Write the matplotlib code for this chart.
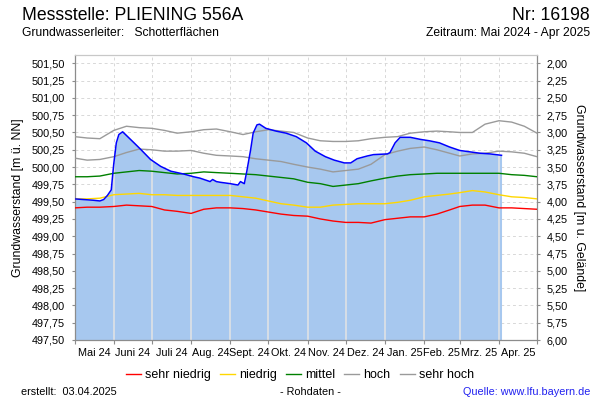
import matplotlib
matplotlib.use('Agg')
import matplotlib.pyplot as plt
import matplotlib.dates as mdates
import numpy as np

plt.rcParams['font.family'] = ['Liberation Sans', 'DejaVu Sans']

# Messwerte Grundwasserstand [m ü. NN]
mess_datum = ['2024-05-01', '2024-05-16', '2024-05-21', '2024-05-24', '2024-05-27', '2024-05-30',
              '2024-06-01', '2024-06-03', '2024-06-05', '2024-06-08', '2024-06-17', '2024-06-22', '2024-06-30',
              '2024-07-08', '2024-07-16', '2024-07-26',
              '2024-08-03', '2024-08-08', '2024-08-16', '2024-08-18', '2024-08-21', '2024-08-24',
              '2024-09-01', '2024-09-07', '2024-09-09', '2024-09-12', '2024-09-14', '2024-09-17', '2024-09-19',
              '2024-09-22', '2024-09-24', '2024-09-29',
              '2024-10-07', '2024-10-15', '2024-10-23', '2024-10-31',
              '2024-11-07', '2024-11-15', '2024-11-22', '2024-11-30',
              '2024-12-05', '2024-12-10', '2024-12-18', '2024-12-23',
              '2025-01-03', '2025-01-05', '2025-01-09', '2025-01-13', '2025-01-21', '2025-01-29',
              '2025-02-05', '2025-02-13', '2025-02-21',
              '2025-03-01', '2025-03-09', '2025-03-17', '2025-03-25',
              '2025-04-03']
mess_wert = [499.54, 499.52, 499.51, 499.53, 499.59, 499.67,
             500.05, 500.35, 500.47, 500.51, 500.35, 500.26, 500.11,
             500.01, 499.94, 499.90,
             499.86, 499.84, 499.79, 499.82, 499.79, 499.78,
             499.76, 499.74, 499.79, 499.76, 499.94, 500.25, 500.49, 500.61, 500.62, 500.56,
             500.52, 500.49, 500.44, 500.35,
             500.23, 500.15, 500.10, 500.06,
             500.06, 500.12, 500.16, 500.18,
             500.19, 500.21, 500.35, 500.43, 500.43, 500.40,
             500.38, 500.35, 500.29,
             500.24, 500.22, 500.20, 500.19,
             500.17]

# Statistik-Kurven (jeweils am 1., 11. und 21. des Monats)
jahr_monat = [(2024, 5), (2024, 6), (2024, 7), (2024, 8), (2024, 9), (2024, 10), (2024, 11), (2024, 12),
              (2025, 1), (2025, 2), (2025, 3), (2025, 4)]
stat_datum = [f'{j}-{m:02d}-{t:02d}' for j, m in jahr_monat for t in (1, 11, 21)] + ['2025-05-01']

sehr_hoch = [500.44, 500.42, 500.41, 500.53, 500.59, 500.57, 500.56, 500.53, 500.49,
             500.51, 500.54, 500.55, 500.51, 500.47, 500.51, 500.54, 500.52, 500.50,
             500.42, 500.38, 500.37, 500.37, 500.38, 500.41, 500.43, 500.44, 500.49,
             500.51, 500.52, 500.51, 500.50, 500.50, 500.62, 500.67, 500.65, 500.59, 500.49]
hoch = [500.13, 500.10, 500.11, 500.15, 500.21, 500.26, 500.25, 500.23, 500.23,
        500.24, 500.20, 500.17, 500.16, 500.15, 500.12, 500.10, 500.08, 500.04,
        500.00, 499.97, 499.93, 499.95, 499.97, 500.04, 500.18, 500.23, 500.27,
        500.29, 500.25, 500.20, 500.16, 500.19, 500.20, 500.23, 500.22, 500.20, 500.15]
mittel = [499.86, 499.86, 499.87, 499.91, 499.93, 499.95, 499.94, 499.92, 499.90,
          499.91, 499.93, 499.92, 499.91, 499.90, 499.89, 499.87, 499.85, 499.83,
          499.78, 499.76, 499.72, 499.74, 499.76, 499.80, 499.84, 499.87, 499.89,
          499.90, 499.91, 499.91, 499.91, 499.91, 499.91, 499.91, 499.89, 499.88, 499.86]
niedrig = [499.54, 499.54, 499.55, 499.60, 499.61, 499.62, 499.60, 499.60, 499.59,
           499.59, 499.59, 499.59, 499.59, 499.57, 499.55, 499.51, 499.47, 499.45,
           499.42, 499.42, 499.45, 499.46, 499.47, 499.47, 499.47, 499.49, 499.52,
           499.57, 499.59, 499.61, 499.63, 499.66, 499.64, 499.60, 499.57, 499.56, 499.54]
sehr_niedrig = [499.41, 499.42, 499.42, 499.43, 499.45, 499.44, 499.43, 499.38, 499.36,
                499.33, 499.39, 499.41, 499.41, 499.40, 499.38, 499.35, 499.32, 499.30,
                499.29, 499.25, 499.22, 499.20, 499.20, 499.19, 499.24, 499.26, 499.28,
                499.28, 499.32, 499.38, 499.43, 499.45, 499.45, 499.41, 499.41, 499.40, 499.39]

gelaende = 503.50
monate = ['Mai 24', 'Juni 24', 'Juli 24', 'Aug. 24', 'Sept. 24', 'Okt. 24', 'Nov. 24',
          'Dez. 24', 'Jan. 25', 'Feb. 25', 'Mrz. 25', 'Apr. 25']
monatsgrenzen = [f'{j}-{m:02d}-01' for j, m in jahr_monat] + ['2025-05-01']

# Umrechnen in Matplotlib-Datumszahlen
mx = mdates.date2num(np.array(mess_datum, dtype='datetime64[D]'))
sx = mdates.date2num(np.array(stat_datum, dtype='datetime64[D]'))
gx = mdates.date2num(np.array(monatsgrenzen, dtype='datetime64[D]'))
mitte = (gx[:-1] + gx[1:]) / 2

y_unten, y_oben = 497.50, 501.62
grau = '#8c8c8c'

fig = plt.figure(figsize=(6, 4), dpi=100)
ax = fig.add_axes([74.5 / 600, 60 / 400, (537 - 74.5) / 600, 285 / 400])

# Füllung und Messkurve
ax.fill_between(mx, mess_wert, y_unten, color='#A7C8EF', lw=0, zorder=2)
for g in gx[1:]:
    if g <= mx[-1]:
        ax.vlines(g, y_unten, np.interp(g, mx, mess_wert), color='#E4E4E4', lw=1.1, zorder=2.5)

ax.plot(sx, sehr_niedrig, color='#FF0000', lw=1.0, label='sehr niedrig', zorder=3)
ax.plot(sx, niedrig, color='#FFD700', lw=1.0, label='niedrig', zorder=3)
ax.plot(sx, mittel, color='#008000', lw=1.0, label='mittel', zorder=3)
ax.plot(sx, hoch, color='#9a9a9a', lw=1.0, label='hoch', zorder=3)
ax.plot(sx, sehr_hoch, color='#9a9a9a', lw=1.0, label='sehr hoch', zorder=3)
ax.plot(mx, mess_wert, color='#0000FF', lw=1.1, zorder=4)

ax.set_xlim(gx[0], gx[-1])
ax.set_ylim(y_unten, y_oben)

yt = np.arange(497.50, 501.51, 0.25)
ax.set_yticks(yt)
ax.set_yticklabels([f'{v:.2f}'.replace('.', ',') for v in yt])
ax.set_xticks(gx)
ax.set_xticklabels([])
ax.set_xticks(mitte, minor=True)
ax.set_xticklabels(monate, minor=True)

ax.grid(True, which='major', color='#D8D8D8', ls=(0, (3, 3)), lw=0.7, zorder=0)
ax.set_axisbelow(True)

ax.tick_params(axis='y', which='major', direction='out', length=2.5, width=0.8, color=grau,
               labelsize=7.8, pad=4.5)
ax.tick_params(axis='x', which='major', direction='out', length=3, width=0.8, color=grau)
ax.tick_params(axis='x', which='minor', length=0, labelsize=7.8, pad=5.5)

for s in ax.spines.values():
    s.set_color(grau)
    s.set_linewidth(0.9)
ax.spines['top'].set_color('#c8c8c8')

ax.set_ylabel('Grundwasserstand [m ü. NN]', fontsize=8.8, labelpad=5)

# rechte Achse: Flurabstand
ax2 = ax.twinx()
ax2.set_ylim(gelaende - y_unten, gelaende - y_oben)
yt2 = np.arange(2.00, 6.01, 0.25)
ax2.set_yticks(yt2)
ax2.set_yticklabels([f'{v:.2f}'.replace('.', ',') for v in yt2])
ax2.tick_params(axis='y', direction='out', length=2.5, width=0.8, color=grau, labelsize=7.8, pad=4.5)
for s in ax2.spines.values():
    s.set_visible(False)
ax2.set_ylabel('Grundwasserstand [m u. Gelände]', fontsize=8.8, rotation=270, labelpad=12)

# Kopf- und Fußzeilen
fig.text(22 / 600, 1 - 15 / 400, 'Messstelle: PLIENING 556A', fontsize=12.7, va='center', ha='left')
fig.text(590 / 600, 1 - 15 / 400, 'Nr: 16198', fontsize=12.7, va='center', ha='right')
fig.text(22 / 600, 1 - 33 / 400, 'Grundwasserleiter:   Schotterflächen', fontsize=8.7, va='center', ha='left')
fig.text(590 / 600, 1 - 33 / 400, 'Zeitraum: Mai 2024 - Apr 2025', fontsize=8.7, va='center', ha='right')

handles, labels = ax.get_legend_handles_labels()
fig.legend(handles, labels, loc='center', bbox_to_anchor=(0.5, 1 - 375 / 400), ncol=5, frameon=False,
           fontsize=9, handlelength=1.2, handletextpad=0.35, columnspacing=0.7,
           borderpad=0, borderaxespad=0)

fig.text(21 / 600, 1 - 392 / 400, 'erstellt:  03.04.2025', fontsize=7.8, va='center', ha='left')
fig.text(310 / 600, 1 - 392 / 400, '- Rohdaten -', fontsize=7.8, va='center', ha='center')
fig.text(590 / 600, 1 - 392 / 400, 'Quelle: www.lfu.bayern.de', fontsize=7.8, va='center', ha='right',
         color='#2020F0')

fig.savefig('out.png', dpi=100)
